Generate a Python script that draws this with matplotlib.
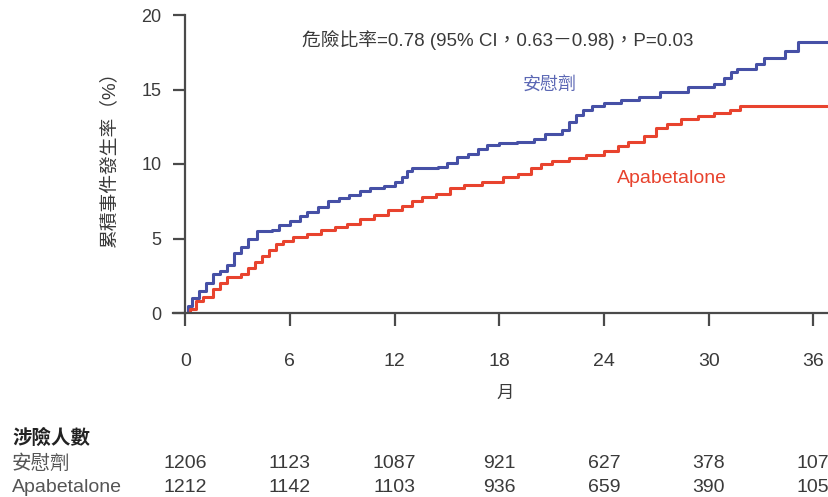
import matplotlib
matplotlib.use("Agg")
import matplotlib.pyplot as plt
import matplotlib.transforms as mtransforms

# Kaplan-Meier style step data (month, cumulative %)
placebo_t = [0, 0.15, 0.4, 0.8, 1.2, 1.6, 2.0, 2.4, 2.8, 3.2, 3.6, 4.1, 5.0, 5.4, 6.0, 6.6,
             7.0, 7.6, 8.2, 8.8, 9.4, 10.0, 10.6, 11.4, 12.0, 12.4, 12.7, 13.0, 14.5, 15.0,
             15.6, 16.2, 16.8, 17.3, 18.0, 19.0, 20.0, 20.6, 21.6, 22.0, 22.4, 22.8, 23.3,
             24.0, 25.0, 26.0, 27.2, 28.8, 30.3, 30.9, 31.3, 31.6, 32.7, 33.2, 34.4, 35.1, 36.9]
placebo_y = [0, 0.5, 1.0, 1.5, 2.0, 2.6, 2.8, 3.2, 4.0, 4.4, 5.0, 5.5, 5.6, 5.9, 6.2, 6.5,
             6.8, 7.1, 7.5, 7.7, 7.9, 8.2, 8.4, 8.5, 8.8, 9.1, 9.5, 9.7, 9.8, 10.1,
             10.5, 10.7, 11.0, 11.3, 11.4, 11.5, 11.7, 12.0, 12.3, 12.8, 13.3, 13.6, 13.9,
             14.1, 14.3, 14.5, 14.8, 15.2, 15.4, 15.8, 16.2, 16.4, 16.7, 17.1, 17.6, 18.2, 18.2]

apa_t = [0, 0.3, 0.6, 1.0, 1.6, 2.0, 2.4, 3.2, 3.6, 4.0, 4.4, 4.8, 5.2, 5.6, 6.2, 7.0, 7.8,
         8.6, 9.3, 10.0, 10.8, 11.6, 12.4, 13.0, 13.6, 14.4, 15.2, 16.0, 17.0, 18.2, 19.1,
         19.8, 20.4, 21.0, 22.0, 23.0, 24.0, 24.8, 25.4, 26.3, 27.0, 27.6, 28.4, 29.4, 30.3,
         31.2, 31.8, 36.9]
apa_y = [0, 0.3, 0.8, 1.1, 1.6, 2.0, 2.4, 2.6, 3.0, 3.4, 3.8, 4.2, 4.6, 4.8, 5.1, 5.3, 5.6,
         5.8, 6.0, 6.3, 6.6, 6.9, 7.2, 7.5, 7.8, 8.0, 8.4, 8.6, 8.8, 9.1, 9.3,
         9.7, 10.0, 10.2, 10.4, 10.6, 10.9, 11.2, 11.5, 11.9, 12.4, 12.7, 13.0, 13.2, 13.4,
         13.6, 13.9, 13.9]

x_ticks = [0, 6, 12, 18, 24, 30, 36]
y_ticks = [0, 5, 10, 15, 20]
risk_placebo = [1206, 1123, 1087, 921, 627, 378, 107]
risk_apa = [1212, 1142, 1103, 936, 659, 390, 105]

CJK = ["Liberation Sans", "Noto Sans CJK TC"]
BLUE = "#4650a6"
RED = "#e8432e"
DARK = "#3a3a3a"

fig = plt.figure(figsize=(8.29, 4.97), dpi=100)
ax = fig.add_axes([173 / 829, 1 - 313 / 497, (829 - 173) / 829, (313 - 15) / 497])

ax.step(placebo_t, placebo_y, where="post", color=BLUE, lw=2.2)
ax.step(apa_t, apa_y, where="post", color=RED, lw=2.2)

ax.set_xlim(-0.7, 36.9)
ax.set_ylim(0, 20)
for s in ["top", "right"]:
    ax.spines[s].set_visible(False)
ax.spines["left"].set_position(("data", 0))
for s in ["left", "bottom"]:
    ax.spines[s].set_color("#4a4a4a")
    ax.spines[s].set_linewidth(1.6)

ax.set_yticks(y_ticks)
ax.set_yticklabels([str(v) for v in y_ticks], family=CJK, fontsize=13, color=DARK)
ax.tick_params(axis="y", length=9, width=1.6, color="#4a4a4a", pad=8)
ax.set_xticks(x_ticks)
ax.set_xticklabels([str(v) for v in x_ticks], family=CJK, fontsize=14, color=DARK)
ax.tick_params(axis="x", length=9, width=1.6, color="#4a4a4a", pad=20)

ax.text(0.495, 0.916, "危險比率=0.78 (95% CI，0.63－0.98)，P=0.03", transform=ax.transAxes,
        family=CJK, fontsize=13.5, color=DARK, ha="center", va="center")
ax.text(0.575, 0.765, "安慰劑", transform=ax.transAxes, family=CJK, fontsize=13,
        color="#5b67b4", ha="center", va="center")
ax.text(0.76, 0.45, "Apabetalone", transform=ax.transAxes, family=CJK, fontsize=14,
        color=RED, ha="center", va="center")

fig.text(109 / 829, 1 - 155 / 497, "累積事件發生率（%）", rotation=90, family=CJK,
         fontsize=13.5, color=DARK, ha="center", va="center")
fig.text(505 / 829, 1 - 393 / 497, "月", family=CJK, fontsize=12.5, color=DARK,
         ha="center", va="center")

# risk table
fig.text(12 / 829, 1 - 438 / 497, "涉險人數", family=CJK, fontsize=14, weight="bold",
         color="#222222", ha="left", va="center")
fig.text(12 / 829, 1 - 464 / 497, "安慰劑", family=CJK, fontsize=14, color="#555555",
         ha="left", va="center")
fig.text(12 / 829, 1 - 487 / 497, "Apabetalone", family=CJK, fontsize=14, color="#555555",
         ha="left", va="center")
trans = mtransforms.blended_transform_factory(ax.transData, fig.transFigure)
for xt, a, b in zip(x_ticks, risk_placebo, risk_apa):
    ax.text(xt, 1 - 464 / 497, str(a), transform=trans, family=CJK, fontsize=14,
            color=DARK, ha="center", va="center", clip_on=False)
    ax.text(xt, 1 - 487 / 497, str(b), transform=trans, family=CJK, fontsize=14,
            color=DARK, ha="center", va="center", clip_on=False)

fig.savefig("out.png", dpi=100)
